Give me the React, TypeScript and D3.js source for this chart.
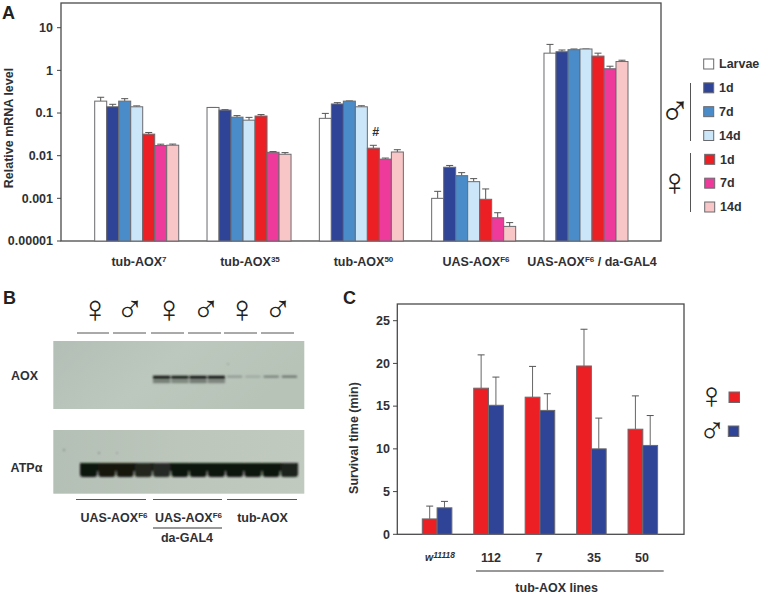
import React from "react";
import * as d3 from "d3";

const groupNames = ["tub-AOX7", "tub-AOX35", "tub-AOX50", "UAS-AOXF6", "UAS-AOXF6/da"];
const seriesNames = ["Larvae", "M1d", "M7d", "M14d", "F1d", "F7d", "F14d"];
const seriesColors = ["#ffffff", "#2f4496", "#4a8cca", "#cbe6f8", "#ec2024", "#ee3a9a", "#f9c6c8"];
const mrnaValues = [
  [0.19, 0.14, 0.19, 0.14, 0.032, 0.0173, 0.0176],
  [0.135, 0.117, 0.08, 0.068, 0.085, 0.012, 0.0108],
  [0.075, 0.163, 0.19, 0.14, 0.015, 0.0083, 0.0122],
  [0.001, 0.00536, 0.0034, 0.00246, 0.00095, 0.00035, 0.00022],
  [2.53, 2.73, 3.05, 3.17, 2.16, 1.09, 1.61],
];
const mrnaErrorTops = [
  [0.234, 0.16, 0.217, 0.147, 0.035, 0.0186, 0.0187],
  [0.135, 0.12, 0.087, 0.079, 0.092, 0.0125, 0.0118],
  [0.098, 0.175, 0.192, 0.148, 0.0175, 0.0088, 0.0138],
  [0.00146, 0.0059, 0.004, 0.0029, 0.00166, 0.00046, 0.00027],
  [4.06, 3.0, 3.17, 3.17, 2.53, 1.25, 1.73],
];
const mrnaTicks = [10, 1, 0.1, 0.01, 0.001, 0.0001];
const mrnaTickLabels = ["10", "1", "0.1", "0.01", "0.001", "0.00001"];
const legendLabels = ["Larvae", "1d", "7d", "14d", "1d", "7d", "14d"];

const survivalGroups = ["w1118", "112", "7", "35", "50"];
const femaleSurvival = [1.8, 17.1, 16.05, 19.7, 12.3];
const femaleErrorTops = [3.3, 21, 19.65, 24, 16.2];
const maleSurvival = [3.1, 15.1, 14.5, 10, 10.4];
const maleErrorTops = [3.85, 18.4, 16.45, 13.6, 13.9];
const survivalTicks = [0, 5, 10, 15, 20, 25];

const aoxUpper = [0, 0, 0, 0, 1, 0.95, 0.97, 1, 0.32, 0.2, 0.5, 0.6];
const aoxLower = [0, 0, 0, 0, 0.4, 0.34, 0.42, 0.36, 0, 0, 0, 0];
const atpStrength = [1, 0.98, 0.98, 0.9, 0.86, 1, 1, 1, 1, 1, 1, 0.93];
const laneIndex = d3.range(12);
const blotSpecks = [[228, 364, 0.8], [64, 450, 1], [99, 453, 0.9], [117, 453, 0.8]];

const FONT = "'Liberation Sans', Arial, sans-serif";
const INK = "#2f3033";
const EDGE = "#6a6a6e";

const Bold = (p: any) => (
  <text fontFamily={FONT} fontWeight={700} fontSize={12.5} fill={INK} {...p} />
);

const Sym = ({ kind, x, y, size = 38 }: any) => (
  <text x={x} y={y} fontFamily="'Liberation Sans'" fontSize={size} fill="#222" textAnchor="middle" dominantBaseline="central">
    {kind === "f" ? "♀" : "♂"}
  </text>
);

const Rule = ({ x1, x2, y1, y2 = y1, c = "#555", w = 1 }: any) => (
  <line x1={x1} x2={x2} y1={y1} y2={y2} stroke={c} strokeWidth={w} />
);

function PanelA() {
  const y = d3.scaleLog().domain([0.0001, 10]).range([241, 27.7]);
  const gx = d3.scaleBand().domain(groupNames).range([94.7, 628]).paddingInner(0.252).paddingOuter(0);
  const bx = d3.scaleBand().domain(seriesNames).range([0, gx.bandwidth()]);
  const labels: any[] = [
    ["tub-AOX", "7", 139],
    ["tub-AOX", "35", 250],
    ["tub-AOX", "50", 363.5],
    ["UAS-AOX", "F6", 476],
    ["UAS-AOX", "F6", 592, " / da-GAL4"],
  ];
  const legendY = d3.scalePoint().domain(d3.range(7).map(String)).range([64, 207]);
  return (
    <g>
      <rect x={61} y={3} width={600} height={238} fill="#fff" stroke="#4a4a4c" strokeWidth={1.3} />
      {mrnaTicks.map((t, i) => (
        <g key={i}>
          <Rule x1={57} x2={61} y1={y(t)} c="#444" />
          <Bold x={53} y={y(t) + 4.3} textAnchor="end">{mrnaTickLabels[i]}</Bold>
        </g>
      ))}
      {groupNames.map((g, gi) =>
        seriesNames.map((s, si) => {
          const x = gx(g)! + bx(s)!;
          const w = bx.bandwidth();
          const cx = x + w / 2;
          return (
            <g key={s}>
              <Rule x1={cx} x2={cx} y1={y(mrnaValues[gi][si])} y2={y(mrnaErrorTops[gi][si])} c="#555" />
              <Rule x1={cx - 3.5} x2={cx + 3.5} y1={y(mrnaErrorTops[gi][si])} c="#555" />
              <rect x={x} y={y(mrnaValues[gi][si])} width={w} height={241 - y(mrnaValues[gi][si])}
                fill={seriesColors[si]} stroke={EDGE} strokeWidth={1} />
            </g>
          );
        })
      )}
      <Bold x={375.7} y={136} textAnchor="middle">#</Bold>
      {labels.map((l, i) => (
        <Bold key={i} x={l[2]} y={265.5} textAnchor="middle">
          {l[0]}
          <tspan dy={-4} fontSize={8}>{l[1]}</tspan>
          {l[3] ? <tspan dy={4}>{l[3]}</tspan> : null}
        </Bold>
      ))}
      <Bold transform="translate(12.5,128) rotate(-90)" textAnchor="middle">Relative mRNA level</Bold>
      <Bold x={2} y={19} fontSize={18} fill="#222">A</Bold>
      {legendLabels.map((t, i) => {
        const ly = legendY(String(i))!;
        const dx = i >= 4 ? 1 : 0;
        return (
          <g key={i}>
            <rect x={703.7 + dx} y={ly - 5} width={10} height={10} fill={seriesColors[i]} stroke={EDGE} />
            <Bold x={719 + dx} y={ly + 4.3}>{t}</Bold>
          </g>
        );
      })}
      <Rule x1={690.5} x2={690.5} y1={83} y2={141} />
      <Rule x1={690.5} x2={690.5} y1={153} y2={212} />
      <Sym kind="m" x={675} y={110.5} size={42} />
      <Sym kind="f" x={674.5} y={182} />
    </g>
  );
}

function PanelB() {
  const lane = d3.scaleBand<number>().domain(laneIndex).range([80, 298]).paddingInner(0.06);
  const syms: any[] = [["f", 95], ["m", 130], ["f", 169], ["m", 206], ["f", 242], ["m", 278]];
  const topRules = [[77, 109], [113, 146], [151, 184], [188, 221], [224, 257], [261, 294]];
  const color = d3.interpolateRgb("#b4bfb5", "#10140e");
  return (
    <g>
      <defs>
        <linearGradient id="blot1" x1="0" x2="1" y1="0" y2="0.3">
          <stop offset="0" stopColor="#b3bfb6" />
          <stop offset="0.5" stopColor="#bcc7bd" />
          <stop offset="1" stopColor="#b8c3b8" />
        </linearGradient>
        <linearGradient id="blot2" x1="0" x2="1" y1="0" y2="0">
          <stop offset="0" stopColor="#b4bfb5" />
          <stop offset="0.5" stopColor="#bcc6bb" />
          <stop offset="1" stopColor="#c0cabf" />
        </linearGradient>
        <filter id="soft" x="-20%" y="-100%" width="140%" height="300%"><feGaussianBlur stdDeviation="0.9" /></filter>
        <filter id="soft2" x="-20%" y="-50%" width="140%" height="200%"><feGaussianBlur stdDeviation="0.8" /></filter>
      </defs>
      <Bold x={3} y={304} fontSize={18} fill="#222">B</Bold>
      {syms.map((s, i) => <Sym key={i} kind={s[0]} x={s[1]} y={309} />)}
      {topRules.map((r, i) => <Rule key={i} x1={r[0]} x2={r[1]} y1={333} />)}
      <rect x={53.3} y={341} width={251} height={68} fill="url(#blot1)" />
      <rect x={53.3} y={430} width={251} height={63.7} fill="url(#blot2)" />
      <g filter="url(#soft)">
        {laneIndex.map((i) => aoxLower[i] > 0 && (
          <rect key={i} x={lane(i)!} y={379.5} width={lane.bandwidth()} height={3.6}
            fill={color(aoxLower[i])} />
        ))}
        {laneIndex.map((i) => aoxUpper[i] > 0 && (
          <rect key={i} x={lane(i)! + (aoxUpper[i] > 0.7 ? 0 : 1)} y={375.8} width={lane.bandwidth() - (aoxUpper[i] > 0.7 ? 0 : 2)} height={aoxUpper[i] > 0.7 ? 3.2 : 1.6}
            fill={color(aoxUpper[i])} />
        ))}
      </g>
      <g filter="url(#soft2)">
        <rect x={80} y={463} width={218} height={8} fill="#12160f" />
        {laneIndex.map((i) => (
          <rect key={i} x={lane(i)!} y={463} width={lane.bandwidth()} height={14} rx={3}
            fill={color(atpStrength[i])} />
        ))}
        {blotSpecks.map((s, i) => <circle key={i} cx={s[0]} cy={s[1]} r={s[2]} fill="#7f8a80" />)}
      </g>
      <Bold x={24.5} y={380} textAnchor="middle">AOX</Bold>
      <Bold x={26.5} y={471.5} textAnchor="middle">ATPα</Bold>
      <Rule x1={76} x2={146} y1={499.5} />
      <Rule x1={153} x2={222} y1={499.5} />
      <Rule x1={227} x2={297} y1={499.5} />
      <Bold x={114} y={522} textAnchor="middle">UAS-AOX<tspan dy={-4} fontSize={8}>F6</tspan></Bold>
      <Bold x={188.5} y={522} textAnchor="middle">UAS-AOX<tspan dy={-4} fontSize={8}>F6</tspan></Bold>
      <Bold x={262.5} y={522} textAnchor="middle">tub-AOX</Bold>
      <Rule x1={153} x2={222} y1={528} c="#333" />
      <Bold x={187} y={542} textAnchor="middle">da-GAL4</Bold>
    </g>
  );
}

function PanelC() {
  const y = d3.scaleLinear().domain([0, 25]).range([534.3, 320.7]);
  const gx = d3.scaleBand().domain(survivalGroups).range([422.3, 657.6]).paddingInner(0.425).paddingOuter(0);
  const w = gx.bandwidth() / 2;
  const xlabels = [491, 539, 594, 642];
  const bar = (g: string, i: number, off: number, v: number, e: number, c: string) => {
    const x = gx(g)! + off;
    const cx = x + w / 2;
    return (
      <g key={g + off}>
        <Rule x1={cx} x2={cx} y1={y(v)} y2={y(e)} c="#666" />
        <Rule x1={cx - 3.5} x2={cx + 3.5} y1={y(e)} c="#555" />
        <rect x={x} y={y(v)} width={w} height={534.3 - y(v)} fill={c} stroke={EDGE} />
      </g>
    );
  };
  return (
    <g>
      <rect x={397.3} y={304} width={286.7} height={230.3} fill="#fff" stroke="#4a4a4c" strokeWidth={1.3} />
      {survivalTicks.map((t) => (
        <g key={t}>
          <Rule x1={393} x2={397.3} y1={y(t)} c="#444" />
          <Bold x={390} y={y(t) + 4.3} textAnchor="end">{t}</Bold>
        </g>
      ))}
      {survivalGroups.map((g, i) => (
        <g key={g}>
          {bar(g, i, 0, femaleSurvival[i], femaleErrorTops[i], seriesColors[4])}
          {bar(g, i, w, maleSurvival[i], maleErrorTops[i], seriesColors[1])}
        </g>
      ))}
      <Bold x={343} y={304} fontSize={18} fill="#222">C</Bold>
      <Bold transform="translate(358,438) rotate(-90)" textAnchor="middle">Survival time (min)</Bold>
      <text x={440} y={561} fontFamily={FONT} fontWeight={700} fontStyle="italic" fontSize={10.5} fill={INK} textAnchor="middle">
        w<tspan dy={-3} fontSize={8.5}>11118</tspan>
      </text>
      {survivalGroups.slice(1).map((g, i) => (
        <Bold key={g} x={xlabels[i]} y={562} textAnchor="middle">{g}</Bold>
      ))}
      <Rule x1={476} x2={663.7} y1={571} c="#333" />
      <Bold x={556.7} y={592} textAnchor="middle">tub-AOX lines</Bold>
      <Sym kind="f" x={711.5} y={395} size={37} />
      <Sym kind="m" x={712} y={430} size={37} />
      <rect x={729} y={392} width={10.5} height={10.5} fill={seriesColors[4]} stroke={EDGE} />
      <rect x={728.3} y={426} width={10.5} height={10.5} fill={seriesColors[1]} stroke={EDGE} />
    </g>
  );
}

export default function App() {
  return (
    <svg width={761} height={595} viewBox="0 0 761 595"
      style={{ position: "fixed", left: 0, top: 0, background: "#fff", display: "block" }}>
      <PanelA />
      <PanelB />
      <PanelC />
    </svg>
  );
}
